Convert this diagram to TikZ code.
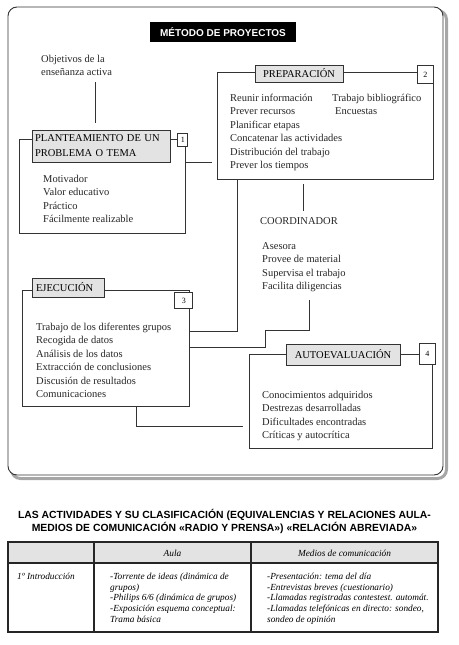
\documentclass[tikz,border=0pt]{standalone}
\usepackage{fontspec}
\setmainfont{Liberation Serif}
\setsansfont{Liberation Sans}
\usetikzlibrary{positioning,calc}

\begin{document}
\begin{tikzpicture}[x=1pt,y=-1pt,font=\fontsize{10.5}{13.4}\selectfont,
  stagebox/.style={draw=black!80,line width=0.8pt,anchor=north west,inner sep=0pt},
  stagelbl/.style={draw=black!80,fill=gray!22,line width=0.8pt,inner sep=0pt},
  stagenum/.style={draw=black!80,fill=white,line width=0.8pt,inner sep=0pt,font=\fontsize{8}{9}\selectfont},
  items/.style={anchor=base west,align=left,inner sep=0pt,text=black!85},
  link/.style={draw=black!80,line width=0.8pt},
  cell/.style={anchor=base west,align=left,inner sep=0pt,font=\fontsize{9.3}{10.7}\selectfont\itshape}]
  \useasboundingbox (0,0) rectangle (458,645);
  \draw[gray!70,line width=3pt,rounded corners=9pt] (11.5,10.5) rectangle (446.5,478.5);
  \draw[black!80,fill=white,line width=0.9pt,rounded corners=9pt] (8,7) rectangle (443,475);
  \node[fill=black,text=white,font=\fontsize{10}{12}\sffamily\bfseries\selectfont,minimum width=146pt,minimum height=20pt,inner sep=0pt] (title) at (223,32) {MÉTODO DE PROYECTOS};

  \node[stagebox,minimum width=166pt,minimum height=94pt] (f1) at (19,139) {};
  \node[stagebox,minimum width=216pt,minimum height=107pt] (f2) at (217,72) {};
  \node[stagebox,minimum width=167pt,minimum height=116pt] (f3) at (22,290) {};
  \node[stagebox,minimum width=183pt,minimum height=94pt] (f4) at (249,354) {};

  \node[stagelbl,minimum width=138pt,minimum height=32pt,text width=132pt,align=left] (plant) at (101,146) {PLANTEAMIENTO DE UN\\[1.5pt]PROBLEMA O TEMA};
  \node[stagelbl,minimum width=88pt,minimum height=17pt] (prep) at (299,73.5) {PREPARACIÓN};
  \node[stagelbl,minimum width=72pt,minimum height=19pt,text width=64pt,align=left] (ejec) at (68,287.5) {EJECUCIÓN};
  \node[stagelbl,minimum width=114pt,minimum height=21pt] (auto) at (343,354.5) {AUTOEVALUACIÓN};

  \node[stagenum,minimum width=10pt,minimum height=13pt,right=7pt of plant.north east,anchor=north west,yshift=-3pt] (n1) {1};
  \node[stagenum,minimum width=16pt,minimum height=18pt,anchor=north east] (n2) at ([yshift=7pt]f2.north east) {2};
  \node[stagenum,minimum width=18pt,minimum height=16pt,anchor=north] (n3) at ([xshift=-6pt,yshift=-2pt]f3.north east) {3};
  \node[stagenum,minimum width=16pt,minimum height=21pt,anchor=east] (n4) at ([xshift=3pt]f4.north east) {4};

  \node[items] (obj) at (41,75.9) {Objetivos de la\\enseñanza activa};
  \node[items] (it1) at (43,222.7) {Motivador\\Valor educativo\\Práctico\\Fácilmente realizable};
  \node[items] (it2) at (230,168.5) {Reunir información\\Prever recursos\\Planificar etapas\\Concatenar las actividades\\Distribución del trabajo\\Prever los tiempos};
  \node[items] (it2b) at (332,114.9) {Trabajo bibliográfico\\\hspace*{3pt}Encuestas};
  \node[items] (coord) at (260,224.5) {COORDINADOR};
  \node[items] (acts) at (262,289.7) {Asesora\\Provee de material\\Supervisa el trabajo\\Facilita diligencias};
  \node[items] (it3) at (36,397.5) {Trabajo de los diferentes grupos\\Recogida de datos\\Análisis de los datos\\Extracción de conclusiones\\Discusión de resultados\\Comunicaciones};
  \node[items] (it4) at (262,438.7) {Conocimientos adquiridos\\Destrezas desarrolladas\\Dificultades encontradas\\Críticas y autocrítica};

  \draw[link] ([xshift=-6pt,yshift=7pt]plant.north) -- ++(0,-41);
  \draw[link] (f1.east |- plant.south) -- ++(26,0);
  \draw[link] ([xshift=20pt]f2.south west) |- ([yshift=-41pt]f3.north east);
  \draw[link] ([xshift=86pt,yshift=-4pt]f2.south west) -- ++(0,27);
  \draw[link] ([xshift=47pt,yshift=-8pt]acts.south west) |- ++(-44,30) |- ([yshift=-57pt]f3.north east);
  \draw[link] ([xshift=114pt]f3.south west) |- ([xshift=-6pt,yshift=-72pt]f4.north west);

  \node[font=\fontsize{10.4}{13}\sffamily\bfseries\selectfont,align=center,inner sep=0pt] (ttl) at (224.5,521.5) {LAS ACTIVIDADES Y SU CLASIFICACIÓN (EQUIVALENCIAS Y RELACIONES AULA-\\MEDIOS DE COMUNICACIÓN «RADIO Y PRENSA») «RELACIÓN ABREVIADA»};
  \fill[gray!22] (8,542) rectangle (438,563);
  \draw[black!85,line width=1.1pt] (8,542) rectangle (438,632) (8,563) -- (438,563) (94,542) -- (94,632) (251,542) -- (251,632);
  \node[cell,anchor=center] (haula) at (172.5,553) {Aula};
  \node[cell,anchor=center] (hmed) at (344.5,553) {Medios de comunicación};
  \node[cell] (r1) at (17,579.5) {1º Introducción};
  \node[cell] (r1aula) at (110,622.3) {-Torrente de ideas (dinámica de\\grupos)\\-Philips 6/6 (dinámica de grupos)\\-Exposición esquema conceptual:\\Trama básica};
  \node[cell] (r1med) at (267,622.3) {-Presentación: tema del día\\-Entrevistas breves (cuestionario)\\-Llamadas registradas contestest. automát.\\-Llamadas telefónicas en directo: sondeo,\\sondeo de opinión};
\end{tikzpicture}
\end{document}
